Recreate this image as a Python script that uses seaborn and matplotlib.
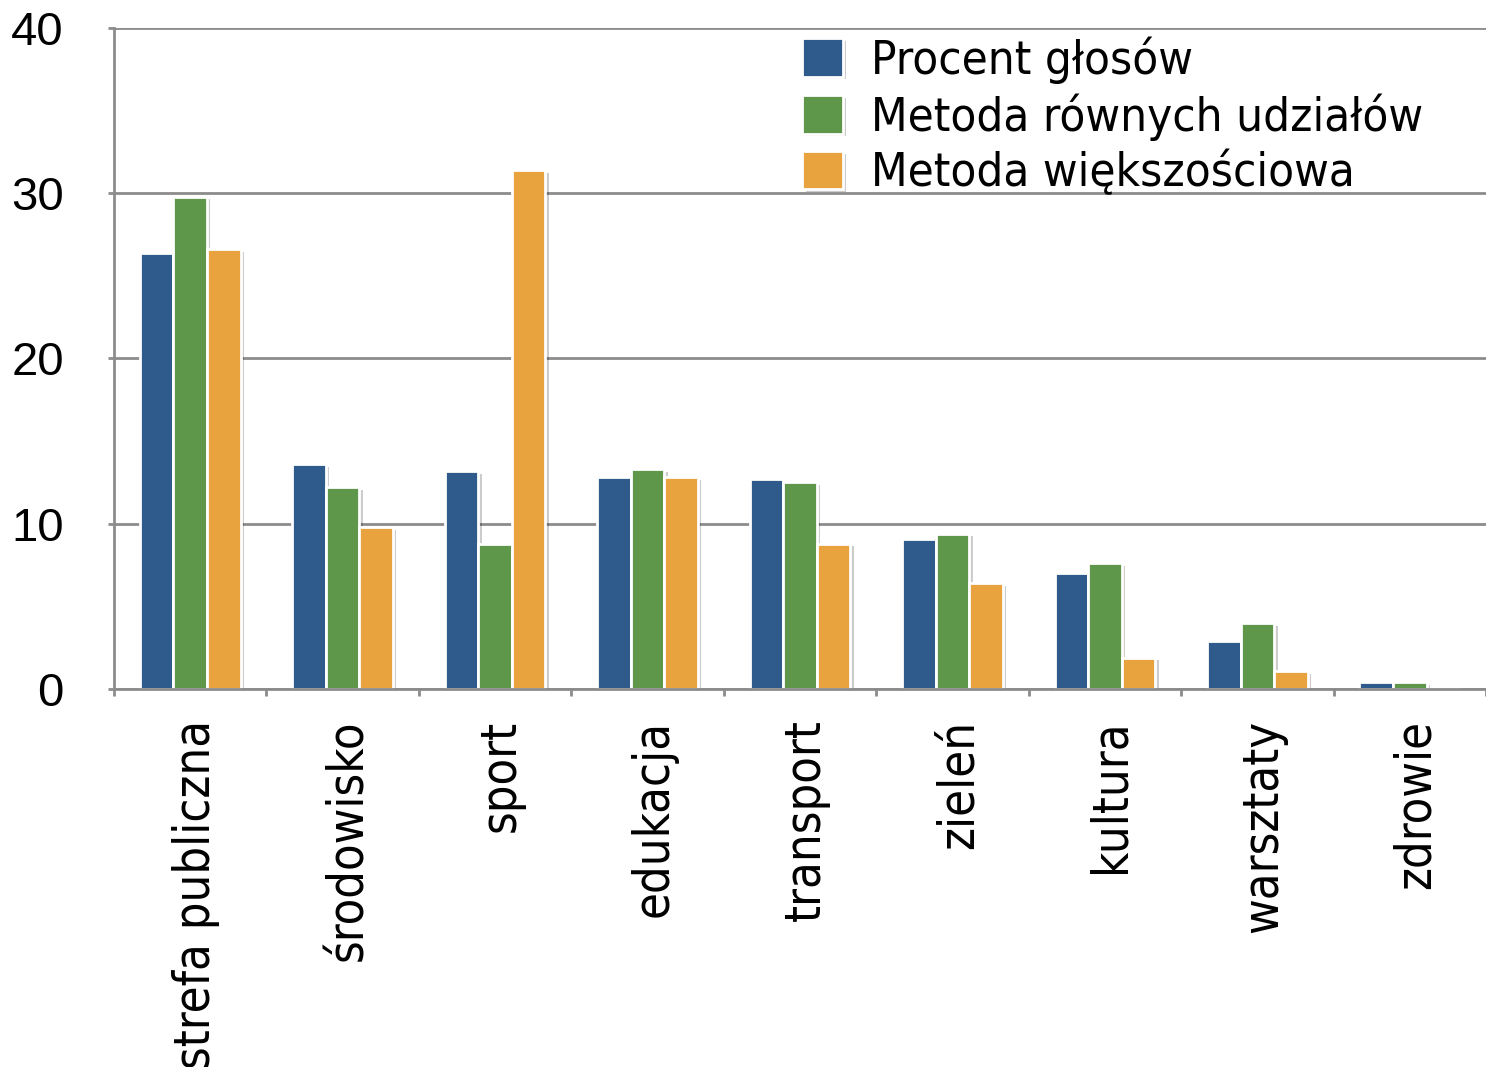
import matplotlib
matplotlib.use("Agg")
import matplotlib.pyplot as plt
import matplotlib.patheffects as pe
import matplotlib.transforms as mtransforms
import seaborn as sns
import pandas as pd

categories = ["strefa publiczna", "środowisko", "sport", "edukacja", "transport",
              "zieleń", "kultura", "warsztaty", "zdrowie"]
procent_glosow = [26.4, 13.6, 13.2, 12.8, 12.7, 9.1, 7.0, 2.9, 0.4]
rowne_udzialy = [29.8, 12.2, 8.8, 13.3, 12.5, 9.4, 7.6, 4.0, 0.4]
wiekszosciowa = [26.6, 9.8, 31.4, 12.8, 8.8, 6.4, 1.9, 1.1, 0.0]
series_names = ["Procent głosów", "Metoda równych udziałów", "Metoda większościowa"]
colors = ["#2E5A8C", "#5E974A", "#E8A23E"]

df = pd.DataFrame({
    "kategoria": categories * 3,
    "wartosc": procent_glosow + rowne_udzialy + wiekszosciowa,
    "seria": [series_names[0]] * 9 + [series_names[1]] * 9 + [series_names[2]] * 9,
})

sns.set_theme(style="white")
plt.rcParams["font.family"] = ["DejaVu Sans"]
plt.rcParams["text.color"] = "black"
plt.rcParams["xtick.color"] = "black"
plt.rcParams["ytick.color"] = "black"

fig = plt.figure(figsize=(14.86, 10.67), dpi=100)
ax = fig.add_axes([0.0767, 0.3543, 0.9233, 0.6195])

sns.barplot(data=df, x="kategoria", y="wartosc", hue="seria", palette=colors,
            order=categories, hue_order=series_names, width=0.66, ax=ax,
            edgecolor="white", linewidth=2, saturation=1, errorbar=None)

shadow = [pe.SimplePatchShadow(offset=(2.5, -2), shadow_rgbFace="#000000", alpha=0.2), pe.Normal()]
for p in ax.patches:
    p.set_path_effects(shadow)

ax.set_ylim(0, 40)
ax.set_xlim(-0.5, len(categories) - 0.5)
ax.set_yticks([0, 10, 20, 30, 40])
ax.yaxis.grid(True, color="#8c8c8c", linewidth=2)
ax.set_axisbelow(True)
for s in ["top", "right"]:
    ax.spines[s].set_visible(False)
for s in ["left", "bottom"]:
    ax.spines[s].set_color("#8c8c8c")
    ax.spines[s].set_linewidth(2)

ax.set_xlabel("")
ax.set_ylabel("")
ax.tick_params(axis="y", labelsize=34, length=4, width=2, color="#8c8c8c",
               labelcolor="black", left=True, pad=32)
for t in ax.get_yticklabels():
    t.set_fontfamily("Liberation Sans")

# category labels at group centers, tick marks at group boundaries
ax.set_xticks(range(len(categories)))
ax.set_xticklabels(categories, rotation=90, fontsize=35, fontstretch="condensed", color="black")
ax.tick_params(axis="x", which="major", length=0, pad=22)
shift = mtransforms.ScaledTranslation(6 / 100, 0, fig.dpi_scale_trans)
for t in ax.get_xticklabels():
    t.set_transform(t.get_transform() + shift)
ax.set_xticks([i - 0.5 for i in range(len(categories) + 1)], minor=True)
ax.tick_params(axis="x", which="minor", length=5, width=2, color="#8c8c8c", bottom=True)

leg = ax.legend(loc="upper left", bbox_to_anchor=(0.488, 1.016), frameon=False,
                fontsize=34, handlelength=0.85, handleheight=0.87, handletextpad=0.6,
                labelspacing=0.2, borderaxespad=0)
for t in leg.get_texts():
    t.set_fontstretch("condensed")
    t.set_color("black")

fig.savefig("out.png", dpi=100, facecolor="white")
